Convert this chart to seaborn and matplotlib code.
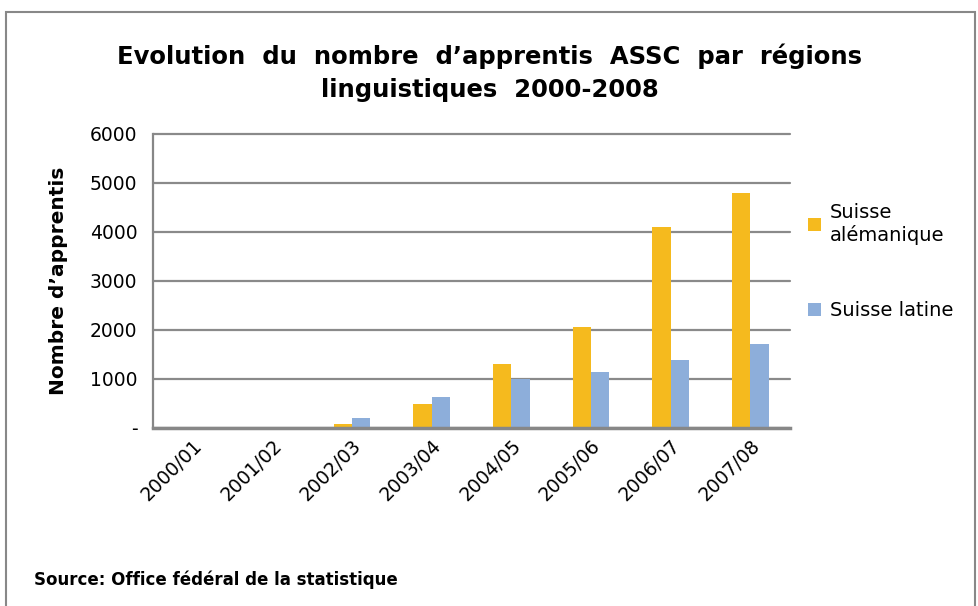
import pandas as pd
import matplotlib.pyplot as plt
import seaborn as sns
from matplotlib.patches import Rectangle

# Données
annees = ["2000/01", "2001/02", "2002/03", "2003/04", "2004/05", "2005/06", "2006/07", "2007/08"]
alemanique = [0, 0, 80, 490, 1310, 2050, 4100, 4790]
latine = [0, 0, 210, 620, 990, 1150, 1395, 1720]
regions = ["Suisse\nalémanique", "Suisse latine"]
couleurs = ["#F5BA1E", "#8DAEDA"]

df = pd.DataFrame({
    "annee": annees * 2,
    "apprentis": alemanique + latine,
    "region": [regions[0]] * len(annees) + [regions[1]] * len(annees),
})

sns.set_style("white")
plt.rcParams["font.family"] = ["DejaVu Sans"]
plt.rcParams["text.color"] = "black"
plt.rcParams["xtick.color"] = "black"
plt.rcParams["ytick.color"] = "black"
plt.rcParams["axes.labelcolor"] = "black"

fig = plt.figure(figsize=(9.79, 6.06), dpi=100)
ax = fig.add_axes([0.156, 0.294, 0.651, 0.485])

sns.barplot(data=df, x="annee", y="apprentis", hue="region", palette=couleurs,
            width=0.46, saturation=1, linewidth=0, ax=ax, legend=True)

ax.set_ylim(0, 6000)
ax.set_yticks(range(0, 6001, 1000))
ax.set_yticklabels(["-"] + [str(v) for v in range(1000, 6001, 1000)], fontsize=13.5)
ax.set_xlim(-0.5, len(annees) - 0.5)
ax.tick_params(axis="x", labelsize=13.5, rotation=45, length=0, pad=6)
for lab in ax.get_xticklabels():
    lab.set_ha("right")
    lab.set_rotation_mode("anchor")
ax.tick_params(axis="y", length=5, width=1.5, color="#878787", pad=6)
ax.yaxis.grid(True, color="#8a8a8a", linewidth=1.6)
for gl in ax.get_ygridlines():
    gl.set_clip_on(False)
ax.set_axisbelow(True)
for s in ["top", "right"]:
    ax.spines[s].set_visible(False)
ax.spines["left"].set_color("#878787")
ax.spines["left"].set_linewidth(1.6)
ax.spines["bottom"].set_color("#878787")
ax.spines["bottom"].set_linewidth(2.5)

ax.set_xlabel("")
ax.set_ylabel("Nombre d’apprentis", fontsize=14.5, fontweight="bold", labelpad=16)

fig.text(0.5, 0.88, "Evolution  du  nombre  d’apprentis  ASSC  par  régions\nlinguistiques  2000-2008",
         ha="center", va="center", fontsize=17.5, fontweight="bold", linespacing=1.45)

leg = ax.legend(loc="upper left", bbox_to_anchor=(1.0, 0.825), frameon=False, fontsize=14,
                handlelength=0.7, handleheight=0.7, handletextpad=0.45, labelspacing=2.9)

fig.text(0.035, 0.034, "Source: Office fédéral de la statistique", fontsize=12, fontweight="bold")

fig.patches.append(Rectangle((0.006, -0.02), 0.99, 1.0, transform=fig.transFigure,
                             fill=False, edgecolor="#888888", linewidth=1.5))

fig.savefig("out.png", dpi=100)
